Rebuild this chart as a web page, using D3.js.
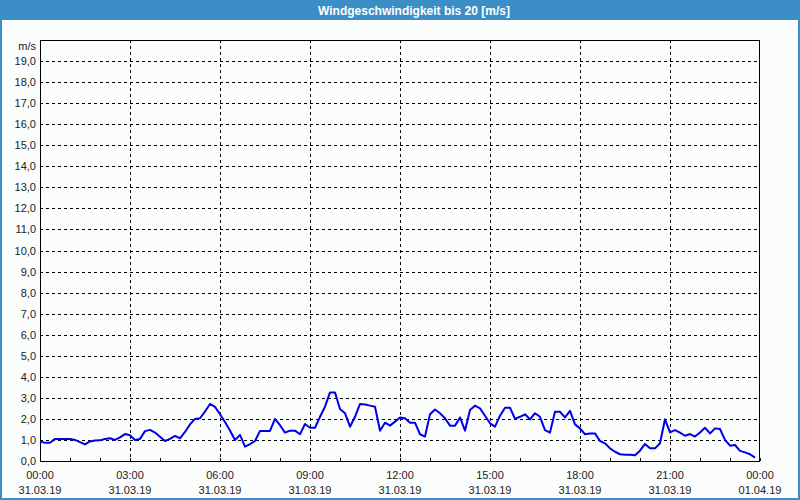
<!DOCTYPE html>
<html><head><meta charset="utf-8">
<script src="https://cdn.jsdelivr.net/npm/d3@7"></script>
<style>html,body{margin:0;padding:0;background:#fff;}svg{display:block;}</style>
</head><body>
<svg id="c" width="800" height="500"></svg>
<script>
const title = "Windgeschwindigkeit bis 20 [m/s]";
const unitLabel = "m/s";
// 10-minute samples starting 31.03.19 00:00
const stepMinutes = 10;
const speeds = [
0.92,0.87,0.87,1.05,1.05,1.05,1.05,1.0,0.9,0.79,0.93,0.97,0.98,1.05,1.08,1.0,1.12,1.28,1.22,1.0,
1.05,1.42,1.48,1.35,1.15,0.95,1.05,1.19,1.08,1.38,1.74,2.0,2.03,2.35,2.71,2.57,2.22,1.85,1.45,1.0,
1.24,0.68,0.8,0.95,1.43,1.43,1.43,2.0,1.7,1.35,1.44,1.44,1.27,1.76,1.58,1.58,2.1,2.58,3.26,3.26,
2.47,2.27,1.63,2.1,2.71,2.68,2.63,2.58,1.44,1.82,1.68,1.87,2.07,2.03,1.82,1.82,1.27,1.16,2.22,2.45,
2.27,2.03,1.68,1.68,2.07,1.44,2.42,2.63,2.5,2.15,1.79,1.63,2.15,2.53,2.53,2.0,2.1,2.22,1.98,2.27,
2.1,1.47,1.35,2.34,2.34,2.07,2.38,1.74,1.55,1.27,1.31,1.31,0.95,0.84,0.6,0.44,0.32,0.3,0.3,0.27,
0.49,0.81,0.6,0.6,0.84,1.98,1.36,1.47,1.35,1.2,1.28,1.16,1.35,1.58,1.31,1.55,1.52,1.0,0.73,0.76,
0.48,0.41,0.32,0.16
];
const yTicks = [0,1,2,3,4,5,6,7,8,9,10,11,12,13,14,15,16,17,18,19];
const xTickTimes = ["00:00","03:00","06:00","09:00","12:00","15:00","18:00","21:00","00:00"];
const xTickDates = ["31.03.19","31.03.19","31.03.19","31.03.19","31.03.19","31.03.19","31.03.19","31.03.19","01.04.19"];
const xTickHours = [0,3,6,9,12,15,18,21,24];
const minorHours = d3.range(0,25);

const svg = d3.select("#c");
const W=800,H=500;
const L=40,R=760,T=40,B=461;
const font = "Liberation Sans, Arial, sans-serif";

// frame
svg.append("rect").attr("x",0).attr("y",0).attr("width",W).attr("height",H).attr("fill","#3c8fc6");
svg.append("rect").attr("x",2).attr("y",20).attr("width",W-4).attr("height",H-22).attr("fill","#fbfdfd");
svg.append("text").attr("x",414).attr("y",15).attr("text-anchor","middle")
  .attr("font-family",font).attr("font-size",12).attr("font-weight","bold").attr("fill","#fff").text(title);

const x = d3.scaleLinear().domain([0,24]).range([L,R]);
const y = d3.scaleLinear().domain([0,20]).range([B,T]);

const g = svg.append("g");
// grid
g.selectAll("line.hg").data(yTicks.filter(d=>d>0)).enter().append("line")
  .attr("x1",L).attr("x2",R).attr("y1",d=>Math.round(y(d))+0.5).attr("y2",d=>Math.round(y(d))+0.5)
  .attr("stroke","#000").attr("stroke-width",1).attr("stroke-dasharray","3,3");
g.selectAll("line.vg").data(xTickHours.filter(d=>d>0&&d<24)).enter().append("line")
  .attr("y1",T).attr("y2",B).attr("x1",d=>Math.round(x(d))+0.5).attr("x2",d=>Math.round(x(d))+0.5)
  .attr("stroke","#000").attr("stroke-width",1).attr("stroke-dasharray","3,3");
// minor ticks
g.selectAll("line.mt").data(minorHours).enter().append("line")
  .attr("x1",d=>Math.round(x(d))+0.5).attr("x2",d=>Math.round(x(d))+0.5)
  .attr("y1",B).attr("y2",B-3).attr("stroke","#000");
// border
g.append("rect").attr("x",L+0.5).attr("y",T+0.5).attr("width",R-L-1).attr("height",B-T)
  .attr("fill","none").attr("stroke","#000").attr("stroke-width",1);

// y labels
g.selectAll("text.yl").data(yTicks).enter().append("text")
  .attr("x",36).attr("y",d=>y(d)+4).attr("text-anchor","end")
  .attr("font-family",font).attr("font-size",11).attr("fill","#222")
  .text(d=>d3.format(".1f")(d).replace(".",","));
g.append("text").attr("x",36).attr("y",T+10).attr("text-anchor","end")
  .attr("font-family",font).attr("font-size",11).attr("fill","#222").text(unitLabel);

// x labels
xTickHours.forEach((h,i)=>{
  g.append("text").attr("x",x(h)).attr("y",479).attr("text-anchor","middle")
    .attr("font-family",font).attr("font-size",11).attr("fill","#222").text(xTickTimes[i]);
  g.append("text").attr("x",x(h)).attr("y",494).attr("text-anchor","middle")
    .attr("font-family",font).attr("font-size",11).attr("fill","#222").text(xTickDates[i]);
});

// line
const line = d3.line().x((d,i)=>x(i*stepMinutes/60)).y(d=>y(d));
g.append("path").datum(speeds).attr("d",line).attr("fill","none")
  .attr("stroke","#0000e6").attr("stroke-width",2).attr("stroke-linejoin","round");
</script>
</body></html>
